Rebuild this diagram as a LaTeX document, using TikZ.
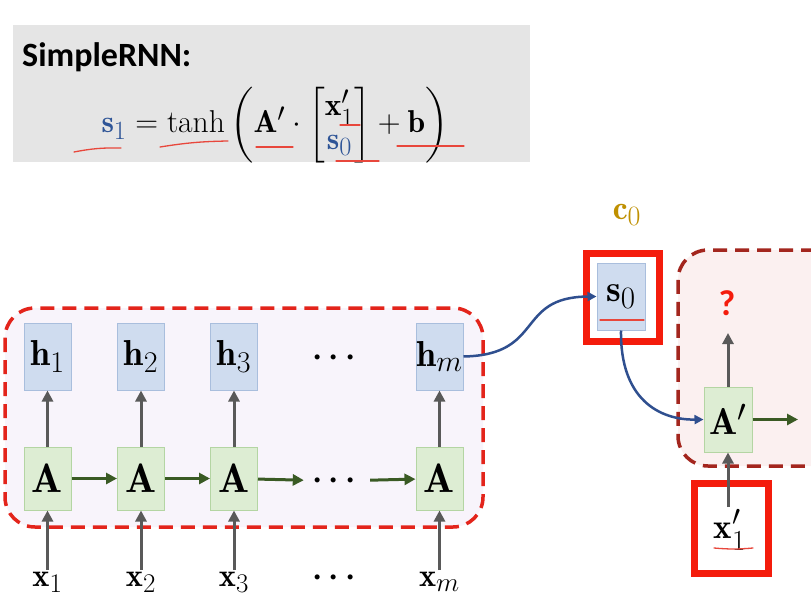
\RequirePackage{fix-cm}
\documentclass[tikz,border=0pt]{standalone}
\usepackage{amsmath}
\usepackage{graphicx}
\usepackage{fontspec}
\newfontfamily\headfont{Carlito}
\usepackage{xcolor}
\definecolor{hFill}{HTML}{CFDCEF}
\definecolor{hLine}{HTML}{A9BEDD}
\definecolor{aFill}{HTML}{DDEDD3}
\definecolor{aLine}{HTML}{B4D5A3}
\definecolor{arrGray}{HTML}{595959}
\definecolor{arrGreen}{HTML}{3A5A24}
\definecolor{curveBlue}{HTML}{2F4F8F}
\definecolor{sBlue}{HTML}{2F5597}
\definecolor{frameRed}{HTML}{F41C0C}
\definecolor{dashRed}{HTML}{E3241B}
\definecolor{dashDark}{HTML}{A3261E}
\definecolor{lilac}{HTML}{F8F4FB}
\definecolor{blush}{HTML}{FBF0F0}
\definecolor{boxGray}{HTML}{E5E5E5}
\definecolor{cGold}{HTML}{BF9000}
\definecolor{markRed}{HTML}{E8473C}
\usetikzlibrary{arrows.meta,positioning}

% math past 25pt does not grow, so blow it up by hand
\newcommand{\mscaled}[2]{\scalebox{#1}{$#2$}}

\tikzset{
  hcell/.style={draw=hLine, fill=hFill, line width=1pt, minimum width=47pt, minimum height=67pt, inner sep=0pt},
  acell/.style={draw=aLine, fill=aFill, line width=1pt, minimum width=47pt, minimum height=63pt, inner sep=0pt},
  uparr/.style={draw=arrGray, line width=3pt, -{Triangle[length=11pt,width=11pt]}},
  steparr/.style={draw=arrGreen, line width=3pt, -{Triangle[length=11pt,width=11pt]}},
  bluearr/.style={draw=curveBlue, line width=2.5pt, -{Triangle[length=9pt,width=9pt]}},
  redframe/.style={draw=frameRed, line width=7pt, inner sep=0pt},
  redline/.style={draw=markRed, line width=1.3pt, line cap=round},
  xlabel/.style={inner sep=2pt},
}

\begin{document}
\begin{tikzpicture}[x=1pt,y=-1pt,font=\fontsize{24.88}{30}\selectfont]
  \useasboundingbox[fill=white] (0,0) rectangle (811,615);

  % formula panel
  \fill[boxGray] (13,25) rectangle (530,162);
  \node[anchor=base west, inner sep=0pt, font=\headfont\bfseries\fontsize{34}{40}\selectfont] (title) at (22,67) {SimpleRNN:};
  \node[anchor=base, inner sep=0pt] (rnnformula) at (275,133)
    {\mscaled{1.27}{\color{sBlue}\mathbf{s}_1 \color{black} = \tanh\left(\mathbf{A}'\cdot\left[\begin{array}{@{}c@{}}\mathbf{x}'_1\\[-3pt] \color{sBlue}\mathbf{s}_0\end{array}\right]+\mathbf{b}\right)}};
  \draw[redline] (74,152) to[bend left=6] (121,148);
  \draw[redline] (160,147) to[bend left=4] (228,141);
  \draw[redline] (256,147) -- (293,147);
  \draw[redline] (340,125) -- (360,125);
  \draw[redline] (336,161) -- (379,161);
  \draw[redline] (397,146) -- (464,146);

  % encoder
  \draw[dashRed, fill=lilac, line width=3.5pt, dash pattern=on 14pt off 8pt, rounded corners=30pt] (5,308) rectangle (483,527);

  \node[hcell] (h1) at (47.5,356.5) {\mscaled{1.45}{\mathbf{h}_1}};
  \node[hcell] (h2) at (141,356.5) {\mscaled{1.45}{\mathbf{h}_2}};
  \node[hcell] (h3) at (234,356.5) {\mscaled{1.45}{\mathbf{h}_3}};
  \node[inner sep=0pt] (hdots) at (337,358) {\mscaled{1.3}{\boldsymbol{\cdots}}};
  \node[hcell] (hm) at (439.5,356.5) {\mscaled{1.45}{\mathbf{h}_m}};

  \node[acell] (a1) at (47.5,478.5) {\mscaled{1.65}{\mathbf{A}}};
  \node[acell] (a2) at (141,478.5) {\mscaled{1.65}{\mathbf{A}}};
  \node[acell] (a3) at (234,478.5) {\mscaled{1.65}{\mathbf{A}}};
  \node[inner sep=0pt, minimum width=66pt] (adots) at (337,481) {\mscaled{1.3}{\boldsymbol{\cdots}}};
  \node[acell] (am) at (439.5,478.5) {\mscaled{1.65}{\mathbf{A}}};

  \node[xlabel] (x1) at (47.5,582) {\mscaled{1.3}{\mathbf{x}_1}};
  \node[xlabel] (x2) at (141,582) {\mscaled{1.3}{\mathbf{x}_2}};
  \node[xlabel] (x3) at (234,582) {\mscaled{1.3}{\mathbf{x}_3}};
  \node[inner sep=0pt] (xdots) at (337,578) {\mscaled{1.3}{\boldsymbol{\cdots}}};
  \node[xlabel] (xm) at (439.5,582) {\mscaled{1.3}{\mathbf{x}_m}};

  \draw[uparr] (a1) -- (h1);
  \draw[uparr] (a2) -- (h2);
  \draw[uparr] (a3) -- (h3);
  \draw[uparr] (am) -- (hm);
  \draw[uparr] (x1) -- (a1);
  \draw[uparr] (x2) -- (a2);
  \draw[uparr] (x3) -- (a3);
  \draw[uparr] (xm) -- (am);

  \draw[steparr] (a1) -- (a2);
  \draw[steparr] (a2) -- (a3);
  \draw[steparr] (a3) -- (adots);
  \draw[steparr] (adots) -- (am);

  % decoder
  \draw[dashDark, fill=blush, line width=3.5pt, dash pattern=on 14pt off 8pt, rounded corners=30pt] (815,250) -- (678,250) -- (678,466) -- (815,466);

  \node[text=cGold] (c0) at (627,215) {\mscaled{1.35}{\mathbf{c}_0}};
  \node[redframe, minimum width=73.5pt, minimum height=88pt] (s0frame) at (623,297) {};
  \node[hcell, minimum width=48pt] (s0) at (621,296.5) {\mscaled{1.5}{\mathbf{s}_0}};
  \draw[redline] (600,320) -- (644,320);

  \node[acell, minimum width=48pt, minimum height=65pt] (ap) at (728,419.5) {\mscaled{1.5}{\mathbf{A}'}};
  \node[text=frameRed, font=\headfont\bfseries\fontsize{36}{40}\selectfont, inner sep=0pt] (query) at (727,303) {?};
  \coordinate (apout) at (798,419.5);
  \coordinate (qbase) at (728,333);

  \node[redframe, minimum width=74pt, minimum height=90pt] (xpframe) at (731.5,528.5) {};
  \node[inner sep=0pt] (xp) at (730,530) {\mscaled{1.4}{\mathbf{x}'_1}};
  \coordinate (xptop) at (728,507);
  \draw[redline] (714,548) to[bend right=5] (753,548);

  \draw[uparr] (ap) -- (qbase);
  \draw[steparr] (ap) -- (apout);
  \draw[uparr] (xptop) -- (ap.south);

  \draw[bluearr] (hm.east) .. controls (545,355) and (515,297) .. (s0.west);
  \draw[bluearr] (s0.south) .. controls (620,400) and (660,420) .. (ap.west);
\end{tikzpicture}
\end{document}
